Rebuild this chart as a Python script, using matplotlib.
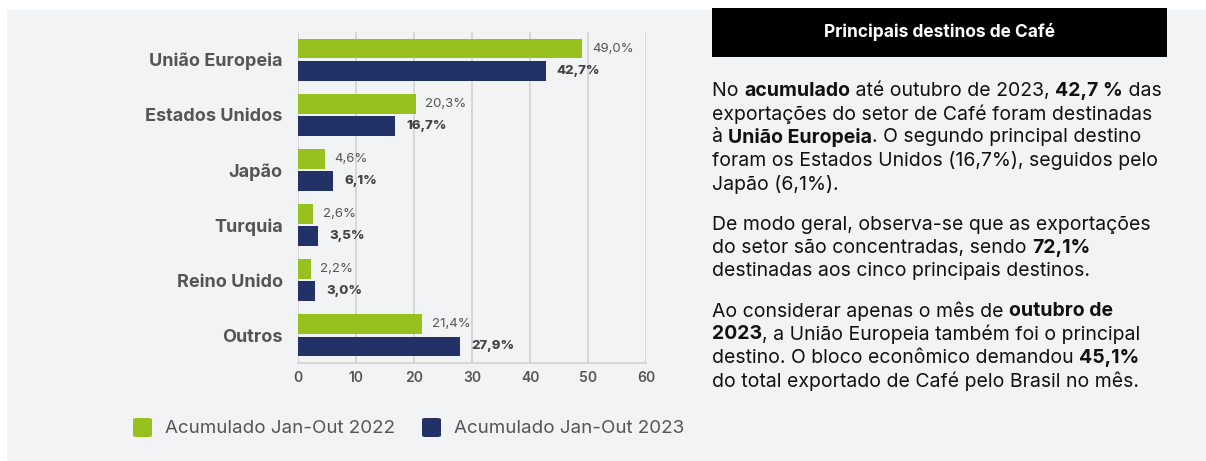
import matplotlib.pyplot as plt
import numpy as np
from matplotlib.patches import Rectangle, FancyBboxPatch

categories = ["União Europeia", "Estados Unidos", "Japão", "Turquia", "Reino Unido", "Outros"]
values_2022 = [49.0, 20.3, 4.6, 2.6, 2.2, 21.4]
values_2023 = [42.7, 16.7, 6.1, 3.5, 3.0, 27.9]
series_names = ["Acumulado Jan-Out 2022", "Acumulado Jan-Out 2023"]
x_ticks = [0, 10, 20, 30, 40, 50, 60]

title = "Principais destinos de Café"
# each paragraph: list of lines, each line a list of (text, bold)
paragraphs = [
    [
        [("No ", False), ("acumulado", True), (" até outubro de 2023, ", False), ("42,7 %", True), (" das", False)],
        [("exportações do setor de Café foram destinadas", False)],
        [("à ", False), ("União Europeia", True), (". O segundo principal destino", False)],
        [("foram os Estados Unidos (16,7%), seguidos pelo", False)],
        [("Japão (6,1%).", False)],
    ],
    [
        [("De modo geral, observa-se que as exportações", False)],
        [("do setor são concentradas, sendo ", False), ("72,1%", True)],
        [("destinadas aos cinco principais destinos.", False)],
    ],
    [
        [("Ao considerar apenas o mês de ", False), ("outubro de", True)],
        [("2023", True), (", a União Europeia também foi o principal", False)],
        [("destino. O bloco econômico demandou ", False), ("45,1%", True)],
        [("do total exportado de Café pelo Brasil no mês.", False)],
    ],
]

GREEN = "#97c11f"
NAVY = "#223266"
BG = "#f2f3f5"
GRAY_TXT = "#555555"

plt.rcParams["font.family"] = ["Inter", "DejaVu Sans"]

W, H = 1206, 461
fig = plt.figure(figsize=(W / 100, H / 100), dpi=100)
fig.patch.set_facecolor("white")

def fx(px):
    return px / W

def fy(py):
    return 1 - py / H

# background panel
fig.patches.append(Rectangle((fx(7), fy(461)), fx(1206) - fx(7), fy(10) - fy(461),
                             transform=fig.transFigure, facecolor=BG, edgecolor="none", zorder=-5))

ax = fig.add_axes([fx(298), fy(363), fx(646) - fx(298), fy(32) - fy(363)])
ax.set_facecolor("none")
ax.set_zorder(2)

y = np.arange(len(categories))
h = 0.36
ax.barh(y - 0.2, values_2022, height=h, color=GREEN, zorder=3)
ax.barh(y + 0.2, values_2023, height=h, color=NAVY, zorder=3)

for yi, v in zip(y, values_2022):
    ax.annotate(f"{v:.1f}%".replace(".", ","), (v, yi - 0.2), xytext=(7, 0), textcoords="offset points",
                va="center", ha="left", fontsize=9.5, color=GRAY_TXT)
for yi, v in zip(y, values_2023):
    ax.annotate(f"{v:.1f}%".replace(".", ","), (v, yi + 0.2), xytext=(8, 0), textcoords="offset points",
                va="center", ha="left", fontsize=9.5, fontweight="heavy", color="#444444")

ax.set_xlim(0, 60)
ax.set_ylim(len(categories) - 0.5, -0.5)
ax.set_xticks(x_ticks)
ax.set_xticklabels([str(t) for t in x_ticks], fontsize=10, fontweight="semibold", color=GRAY_TXT)
ax.set_yticks(y)
ax.set_yticklabels(categories, fontsize=13, fontweight="bold", color=GRAY_TXT)
ax.tick_params(axis="both", length=0)
ax.tick_params(axis="y", pad=11)
ax.tick_params(axis="x", pad=6)
ax.grid(axis="x", color="#d2d2d2", linewidth=1.2, zorder=0)
for s in ["top", "right", "left"]:
    ax.spines[s].set_visible(False)
ax.spines["bottom"].set_color("#d2d2d2")
ax.spines["bottom"].set_linewidth(1.2)

# legend
legend_x = [133, 422]
for lx, name, col in zip(legend_x, series_names, [GREEN, NAVY]):
    fig.patches.append(FancyBboxPatch((fx(lx), fy(437)), fx(19), fy(418) - fy(437),
                                      boxstyle="round,pad=0,rounding_size=0.003",
                                      transform=fig.transFigure, facecolor=col, edgecolor="none"))
    fig.text(fx(lx + 32), fy(428), name, fontsize=13.5, color=GRAY_TXT, va="center", ha="left")

# title box
fig.patches.append(Rectangle((fx(712), fy(57)), fx(1167) - fx(712), fy(8) - fy(57),
                             transform=fig.transFigure, facecolor="black", edgecolor="none"))
fig.text(fx((712 + 1167) / 2), fy(32), title, fontsize=12.5, fontweight="bold", color="white",
         ha="center", va="center")

# body text with inline bold
fig.canvas.draw()
renderer = fig.canvas.get_renderer()
line_ys = [[91, 114, 137, 161, 185], [225, 248, 271], [311, 334, 358, 381]]
for para, ys in zip(paragraphs, line_ys):
    for line, ly in zip(para, ys):
        x = 712
        for txt, bold in line:
            t = fig.text(fx(x), fy(ly), txt, fontsize=14, color="#111111",
                         fontweight="bold" if bold else "normal", ha="left", va="center")
            bb = t.get_window_extent(renderer)
            x += bb.width

fig.savefig("out.png", dpi=100, facecolor=fig.get_facecolor())
